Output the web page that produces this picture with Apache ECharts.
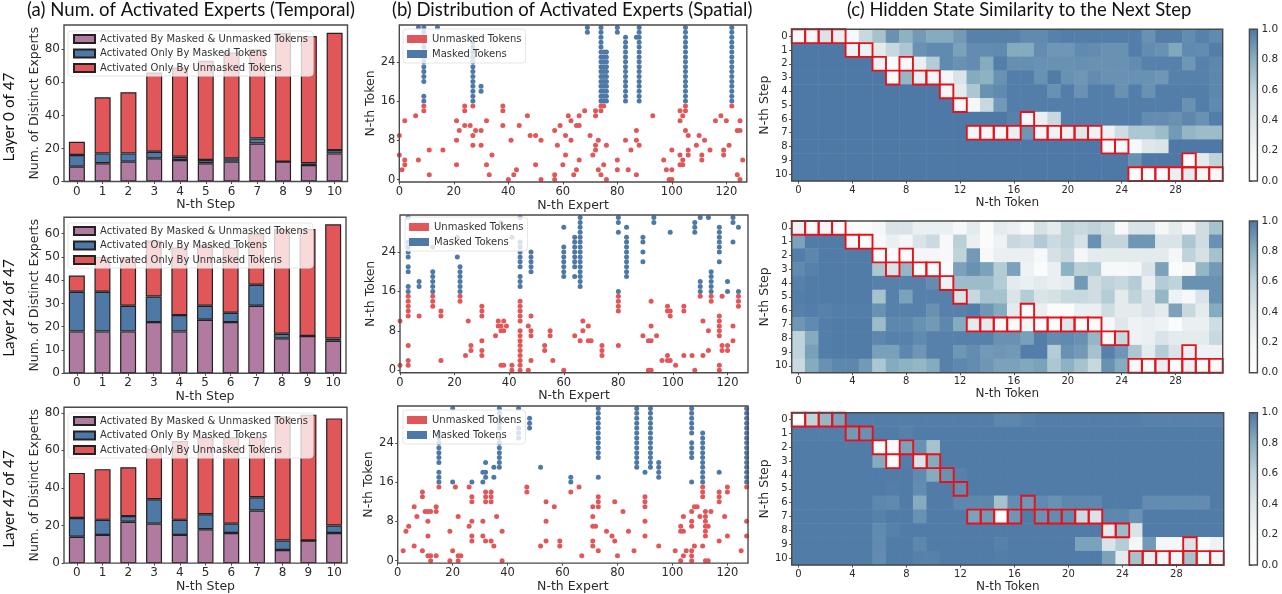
<!DOCTYPE html>
<html>
<head>
<meta charset="utf-8">
<style>html,body{margin:0;padding:0;background:#fff}#c{width:1282px;height:594px}</style>
<script src="https://cdn.jsdelivr.net/npm/echarts@6/dist/echarts.min.js"></script>
</head>
<body>
<div id="c"></div>
<script>
const stepLabels = ['0','1','2','3','4','5','6','7','8','9','10'];
const tokenLabels = ['0','1','2','3','4','5','6','7','8','9','10','11','12','13','14','15','16','17','18','19','20','21','22','23','24','25','26','27','28','29','30','31'];

// (a) bars
const both0 = [9,11,12,14,13,11,12,23,12,10,17];
const masked0 = [7,6,5,4,2,2,2,3,0,1,2];
const unmasked0 = [8,34,37,48,54,60,64,54,78,77,71];
const both1 = [18,18,18,22,18,23,22,29,15,16,14];
const masked1 = [17,17,11,11,7,6,4,9,2,0,1];
const unmasked1 = [7,15,21,24,29,26,28,22,45,46,49];
const both2 = [14,15,22,21,15,18,16,28,7,12,16];
const masked2 = [10,8,3,13,8,8,5,7,5,0,4];
const unmasked2 = [24,27,26,27,42,41,46,32,66,67,57];

// (b) dots: unmasked [expert, token]
const redDots0 = [[0,9],[0,5],[1,2],[2,4],[2,3],[2,12],[6,13],[7,4],[9,15],[9,14],[11,6],[11,1],[16,6],[21,12],[21,8],[21,3],[22,10],[24,15],[24,14],[24,11],[26,11],[27,15],[27,9],[27,7],[28,10],[30,10],[30,7],[32,12],[32,3],[33,1],[34,5],[38,15],[38,14],[38,11],[40,0],[41,8],[42,1],[43,2],[44,11],[47,13],[48,9],[50,9],[50,3],[52,8],[52,0],[57,10],[57,1],[57,0],[58,7],[59,11],[60,3],[61,9],[61,5],[62,13],[63,12],[63,8],[64,1],[65,2],[65,11],[66,11],[66,13],[66,4],[68,14],[70,9],[71,5],[72,14],[72,13],[72,7],[72,6],[73,8],[73,2],[74,15],[74,14],[74,1],[75,15],[75,3],[76,7],[76,0],[80,4],[80,2],[84,2],[83,8],[85,6],[87,10],[87,8],[87,1],[88,7],[93,13],[97,4],[98,2],[99,0],[100,0],[100,2],[100,6],[103,12],[103,14],[103,5],[103,3],[104,13],[104,4],[104,3],[105,15],[105,14],[105,10],[106,9],[106,6],[106,5],[109,7],[110,9],[111,5],[111,4],[112,8],[114,6],[116,12],[118,13],[119,6],[119,5],[120,12],[121,7],[122,15],[124,10],[124,1],[125,12],[125,10],[125,0],[126,4]];
const redDots1 = [[0,10],[0,1],[3,15],[3,14],[3,13],[3,12],[3,11],[3,5],[3,2],[3,1],[7,11],[12,15],[12,14],[12,13],[15,12],[15,11],[15,2],[22,15],[22,14],[24,3],[25,10],[26,5],[26,4],[30,13],[30,12],[30,11],[30,6],[30,4],[30,3],[35,7],[36,10],[36,9],[37,9],[37,8],[37,1],[38,10],[38,8],[38,1],[39,9],[41,1],[41,0],[44,14],[44,13],[44,12],[44,11],[44,10],[44,8],[44,7],[44,6],[44,5],[44,4],[44,3],[44,2],[44,1],[44,0],[47,9],[47,0],[48,11],[48,8],[48,7],[48,2],[53,5],[53,4],[55,8],[55,7],[56,2],[60,0],[64,7],[66,6],[67,10],[67,8],[69,9],[69,6],[70,6],[74,5],[74,4],[74,3],[80,15],[80,14],[80,13],[80,12],[80,5],[89,7],[91,6],[91,0],[92,14],[92,9],[92,6],[92,0],[94,7],[96,2],[98,13],[98,12],[98,3],[98,2],[99,12],[99,11],[99,2],[101,1],[104,13],[104,12],[104,3],[107,3],[108,0],[110,15],[111,10],[111,3],[113,8],[113,4],[114,15],[114,14],[117,11],[117,10],[117,9],[117,8],[117,7],[117,1],[117,0],[118,15],[118,5],[118,4],[120,5],[120,4],[122,9],[122,6],[124,15],[124,14],[124,13]];
const redDots2 = [[2,2],[3,6],[4,7],[6,11],[6,3],[7,9],[9,14],[9,13],[9,2],[10,10],[11,10],[11,8],[11,5],[11,1],[12,10],[12,1],[12,0],[14,11],[14,10],[14,1],[15,15],[19,6],[19,0],[20,2],[21,15],[22,9],[22,1],[22,0],[23,1],[26,15],[26,7],[27,13],[27,12],[27,8],[27,5],[27,4],[31,8],[31,5],[32,14],[32,13],[32,12],[32,4],[34,14],[34,13],[34,12],[34,4],[35,3],[36,9],[38,6],[38,0],[47,15],[47,14],[52,3],[54,12],[54,8],[54,4],[57,11],[59,4],[59,3],[63,14],[66,15],[67,1],[71,11],[71,9],[71,7],[71,4],[71,3],[72,7],[73,13],[73,12],[73,11],[73,2],[76,6],[78,5],[79,12],[79,4],[80,1],[82,10],[84,6],[86,2],[90,13],[90,12],[90,11],[90,8],[90,5],[95,3],[101,2],[103,7],[103,6],[103,0],[104,9],[104,6],[104,1],[105,2],[107,10],[107,8],[107,7],[107,2],[107,1],[107,0],[108,11],[108,3],[109,11],[110,9],[111,15],[111,14],[111,13],[111,3],[112,10],[112,9],[112,8],[112,7],[112,6],[112,5],[112,0],[113,7],[113,0],[114,10],[117,14],[117,13],[117,12],[117,4],[119,9],[120,15],[120,14],[120,5],[125,2],[127,15],[127,8],[127,5]];
// masked: [expert, [tokens]]
const blueCols0 = [[7,[31]],[9,[16,17,20,21,22,23,24,25,26,27,28,29,30,31]],[14,[31]],[27,[16,17,18,19,20,21,22,23,24,25,26,27,28,29]],[30,[18,19]],[69,[30,31]],[74,[16,17,18,19,20,21,22,23,24,25,26,27,28,29,30,31]],[75,[16,17,18,19,20,21,22,23,24,25,26]],[76,[16,17,18,19,20,21,22,23,24,25,26]],[80,[30,31]],[83,[16,17,18,19,20,21,22,23,24,25,26,27,28,29]],[87,[29]],[88,[16,17,18,19,20,21,22,23,24,25,26,27,28,29,30,31]],[105,[16,17,18,19,20,21,22,23,24,25,26,27,28,29,30,31]],[122,[16,17,18,19,20,21,22,23,24,25,26,27,28,29,30,31]]];
const blueCols1 = [[3,[16,17,20,21,23,24,25,26,31]],[7,[17,18]],[12,[16,17,18,19,20,25]],[21,[23,27]],[22,[16,17,18,19,20,21]],[37,[30]],[41,[27]],[44,[17,18,19,21,22,23,24,25,26,31]],[48,[20,21,22,23,24]],[60,[19,20,21,22,23,24,25,29]],[64,[19,21,22,23,24,25,26,27]],[66,[17,18,19,20,21,22,23,24,25,26,27,28,29,30,31]],[80,[16,28,30,31]],[83,[19,20,21,22,23,24,25,26,27,29]],[89,[22,24,26,27]],[93,[30,31]],[99,[28]],[108,[28,29,30]],[110,[16,17,18,31]],[113,[31]],[114,[16,17,18,19,20]],[117,[22,24,25,26,27,28,29]],[120,[16,18]],[122,[26,30,31]],[124,[16,29]]];
const blueCols2 = [[15,[16,17,18,20,21,22,23,24,25,26]],[20,[16,31]],[27,[16]],[31,[16,18]],[32,[17,18,20]],[35,[17,19]],[37,[19,20,21,22,23,24,25,27,28,29,30,31]],[44,[25,26,27,31]],[48,[27,28,29]],[52,[19]],[63,[16,17]],[73,[17,21,22,23,24,25,26,27,28,29,30,31]],[87,[19,20,21,22,23,24,25,26,27,28,29,30,31]],[90,[18]],[92,[19,20,21,22,23,24,25,26,27,28,29,30,31]],[95,[17,18,19,20]],[107,[16,21,22,23,24,26,27,28,29,30,31]],[111,[16,17,18,19,20,21,22,23,24,25,26]],[117,[18]],[127,[16,17,18,19,20,21,22,23,24,25,26,27,28,29,30,31]]];

// (c) similarity, rows = steps, cols = tokens
const heat0 = [
[.15,.15,.43,.3,.15,.55,.7,.91,.79,.88,.82,.82,.88,.97,.97,.97,.97,.94,.94,.97,.98,.98,.98,.98,.98,.98,.91,.98,.98,.93,.97,.94],
[1,1,1,1,.25,.25,.35,.55,.67,.91,.94,.94,.85,.93,.93,.94,.82,.82,.93,.89,.89,.94,.93,.91,.91,.98,.93,.91,.83,.94,.93,.98],
[1,1,1,1,1,1,.25,.1,.15,.3,.64,.94,.91,.93,.82,.98,.92,.92,.91,.91,.91,.92,.91,.91,.91,.93,.97,.97,.97,.89,.97,.95],
[1,1,1,1,1,1,1,.08,.76,.3,.2,.2,.43,.82,.79,.91,.98,.98,.91,.99,.91,.89,.93,.91,.91,.91,.91,.89,.97,.97,.97,.95],
[1,1,1,1,1,1,1,1,1,1,1,.2,.35,.67,.91,.94,.98,.98,.98,.91,.98,.91,.98,.98,.91,.98,.91,.98,.98,.98,.98,.95],
[1,1,1,1,1,1,1,1,1,1,1,1,.1,.2,.55,.88,.98,.98,.98,.98,.98,.98,.98,.98,.98,.98,.98,.98,.98,.91,.98,.94],
[1,1,1,1,1,1,1,1,1,1,1,1,1,1,1,1,.97,.15,.3,.55,.98,.98,.98,.98,.98,.98,.93,.93,.91,.95,.91,.98],
[1,1,1,1,1,1,1,1,1,1,1,1,1,.2,.2,.2,.3,.89,.2,.25,.25,.4,.25,.25,.5,.67,.67,.73,.88,.76,.73,.73],
[1,1,1,1,1,1,1,1,1,1,1,1,1,1,1,1,1,1,1,1,1,1,1,.16,.16,.15,.4,.43,1,1,1,1],
[1,1,1,1,1,1,1,1,1,1,1,1,1,1,1,1,1,1,1,1,1,1,1,1,1,.91,1,1,1,.1,.35,.6],
[1,1,1,1,1,1,1,1,1,1,1,1,1,1,1,1,1,1,1,1,1,1,1,1,1,.08,.08,.1,.3,.35,.2,.15]
];
const heat1 = [
[.25,.1,.2,.1,.08,.1,.2,.43,.43,.3,.3,.3,.18,.35,.1,.35,.3,.15,.46,.35,.6,.55,.6,.53,.15,.43,.43,.2,.35,.18,.5,.7],
[.85,.99,.99,.99,.2,.08,.16,.3,.2,.43,.53,.15,.62,.3,.1,.25,.55,.5,.65,.53,.6,.46,.91,.57,.57,.89,.89,.43,.43,.67,.5,.91],
[.98,.95,.99,.99,.99,.99,.1,.08,.08,.2,.2,.15,.6,.88,.15,.3,.3,.3,.15,.46,.55,.2,.35,.35,.35,.35,.35,.35,.2,.6,.46,.7],
[.94,.97,.99,.99,.99,.99,.67,.43,.76,.08,.08,.1,.85,.91,.85,.64,.85,.25,.1,.3,.79,.62,.64,.15,.15,.2,.43,.85,.1,.2,.76,.88],
[.97,.99,.99,.99,.99,.99,.97,.97,.97,.97,.93,.25,.73,.73,.73,.64,.35,.3,.35,.3,.35,.88,.5,.6,.55,.64,.3,.64,.6,.91,.91,.91],
[.98,.99,.99,.99,.99,.99,.7,.97,.85,.97,.97,.97,.43,.55,.7,.7,.43,.64,.43,.46,.55,.55,.5,.64,.35,.6,.43,.76,.25,.18,.43,.91],
[.97,.98,.97,.98,.98,.98,.91,.97,.97,.97,.91,.97,.97,.98,.89,.82,.35,.1,.3,.1,.08,.3,.3,.5,.35,.35,.43,.35,.85,.55,.35,.82],
[.89,.94,.98,.99,.99,.99,.73,.95,.95,.91,.88,.95,.82,.35,.35,.15,.1,.2,.1,.1,.4,.1,.1,.15,.4,.25,.3,.25,.1,.3,.3,.5],
[.6,.82,.98,.99,.99,.99,.95,.97,.97,.94,.97,.97,.97,.97,.97,.91,.91,.86,.98,.93,.94,.91,.76,.15,.55,.25,.3,.43,.35,.35,.35,.55],
[.6,.86,.98,.99,.99,.99,.86,.86,.95,.89,.97,.97,.89,.93,.88,.89,.88,.98,.98,.64,.91,.88,.7,.97,.89,.67,.35,.64,.43,.3,.25,.25],
[.53,.82,.91,.95,.95,.88,.67,.82,.79,.76,.82,.97,.95,.93,.89,.85,.85,.83,.85,.67,.79,.7,.55,.91,.82,.15,.1,.3,.1,.25,.08,.1]
];
const heat2 = [
[0,.6,.76,.85,.98,.98,.98,.98,.98,.98,.98,.98,.98,.98,.98,.95,.95,.97,.98,.98,.98,.98,.98,.98,.98,.98,.97,.97,.97,.97,.97,.97],
[.98,.98,.98,.98,.88,.91,.99,.99,.97,.99,.99,.99,.99,.99,.99,.99,.99,.99,.99,.99,.99,.99,.99,.99,.99,.99,.99,.99,.99,.99,.99,.99],
[.99,.99,.99,.99,.99,.99,.1,.08,.85,.91,.7,.99,.99,.99,.99,.99,.99,.99,.99,.99,.99,.99,.99,.99,.99,.99,.99,.99,.99,.99,.99,.99],
[.99,.99,.99,.99,.99,.99,.82,.08,.98,.43,.82,.99,.99,.99,.99,.99,.99,.99,.99,.99,.99,.99,.99,.99,.99,.99,.99,.99,.99,.99,.99,.99],
[.99,.99,.99,.99,.99,.99,.99,.99,.99,.94,.82,.91,.97,.99,.99,.99,.99,.99,.99,.99,.99,.99,.99,.99,.99,.99,.99,.99,.99,.99,.99,.99],
[.99,.99,.99,.99,.99,.99,.99,.98,.99,.93,.99,.99,.93,.99,.99,.99,.99,.99,.99,.99,.99,.99,.99,.99,.99,.99,.99,.99,.99,.99,.99,.99],
[.99,.99,.99,.99,.99,.99,.95,.94,.99,.82,.99,.99,.95,.95,.95,.7,.93,.89,.94,.91,.95,.95,.95,.99,.99,.99,.93,.93,.93,.93,.93,.99],
[.99,.99,.99,.99,.99,.99,.97,.99,.99,.91,.99,.99,.99,.85,.88,0,.89,.99,.91,.93,.93,.53,.43,.95,.95,.91,.99,.99,.99,.99,.99,.99],
[.99,.99,.99,.99,.99,.99,.94,.97,.99,.99,.99,.99,.99,.99,.99,.99,.99,.99,.99,.99,.99,.99,.99,.35,.73,.43,.99,.99,.99,.99,.99,.99],
[.99,.99,.99,.99,.99,.99,.94,.99,.99,.95,.99,.99,.99,.99,.99,.97,.99,.99,.99,.99,.99,.85,.85,.43,.64,.2,.88,.2,.2,.43,.1,.25],
[.99,.99,.99,.99,.99,.99,.93,.99,.99,.97,.97,.99,.99,.99,.99,.98,.99,.99,.99,.99,.99,.99,.99,.85,.35,.7,.3,.2,.2,.7,.15,.2]
];
// outlined cells: [token, step]
const maskedCells = [[0,0],[1,0],[2,0],[3,0],[4,1],[5,1],[6,2],[8,2],[7,3],[9,3],[10,3],[11,4],[12,5],[17,6],[13,7],[14,7],[15,7],[16,7],[18,7],[19,7],[20,7],[21,7],[22,7],[23,8],[24,8],[29,9],[25,10],[26,10],[27,10],[28,10],[29,10],[30,10],[31,10]];

const names = ['Activated By Masked & Unmasked Tokens','Activated Only By Masked Tokens','Activated Only By Unmasked Tokens'];
const RED='#e15759', BLUE='#4e79a7', PURPLE='#b07aa1';
const INK='#2b2b2b', SPINE='#4a4a4a';
const barSets=[[both0,masked0,unmasked0],[both1,masked1,unmasked1],[both2,masked2,unmasked2]];
const barMax=[94.7,67,82.9];
const barGrids=[{l:64,t:25,w:283.5,h:156.5},{l:64,t:217.3,w:282,h:156},{l:64,t:407.3,w:283,h:156}];
const dotGrids=[{l:399.3,t:25,w:347.5,h:157},{l:400,t:215,w:348,h:157.7},{l:397.7,t:406,w:350.3,h:157.5}];
const heatGrids=[{l:791.7,t:29.3,w:431,h:151.7},{l:791.7,t:221,w:431,h:151.7},{l:791.7,t:412.7,w:432,h:152.3}];
const redDots=[redDots0,redDots1,redDots2], blueCols=[blueCols0,blueCols1,blueCols2], heats=[heat0,heat1,heat2];
const barLegendTop=[31,223,413], dotLegendTop=[29,217,410], dotLegendLeft=[403,405,403];

const grid=[],xAxis=[],yAxis=[],series=[],legend=[],visualMap=[];
function addGrid(g){grid.push({left:g.l,top:g.t,width:g.w,height:g.h,show:true,borderColor:SPINE,borderWidth:1.4,z:10,backgroundColor:'rgba(0,0,0,0)'});return grid.length-1;}
function axisBase(size,name,gap){return {name:name,nameLocation:'middle',nameGap:gap,nameTextStyle:{fontFamily:'DejaVu Sans',fontSize:12.5,color:INK},axisLine:{show:false},splitLine:{show:false},axisLabel:{fontFamily:'DejaVu Sans',fontSize:size,color:INK,margin:4},axisTick:{show:true,length:2.5,lineStyle:{color:SPINE}}};}

for(let i=0;i<3;i++){
  const g=addGrid(barGrids[i]);
  xAxis.push(Object.assign(axisBase(12,'N-th Step',16.5),{type:'category',gridIndex:g,data:stepLabels,axisTick:{show:true,alignWithLabel:true,length:2.5,lineStyle:{color:SPINE}}}));
  const y=axisBase(12,'Num. of Distinct Experts',19);
  y.axisLabel.showMaxLabel=false;
  yAxis.push(Object.assign(y,{type:'value',gridIndex:g,min:0,max:barMax[i],interval:i==1?10:20}));
  barSets[i].forEach((d,k)=>series.push({name:names[k],type:'bar',xAxisIndex:g,yAxisIndex:g,stack:'s'+i,data:d,barWidth:16,itemStyle:{color:[PURPLE,BLUE,RED][k],borderColor:'#222',borderWidth:1.2}}));
  legend.push({data:names,orient:'vertical',left:68,top:barLegendTop[i],itemWidth:21,itemHeight:8,itemGap:4.5,padding:[3,5,3,5],selectedMode:false,z:20,backgroundColor:'rgba(255,255,255,0.78)',borderColor:'#e6e6e6',borderWidth:1,borderRadius:3,icon:'rect',textStyle:{fontFamily:'DejaVu Sans',fontSize:10,color:'#333'}});
}
for(let i=0;i<3;i++){
  const g=addGrid(dotGrids[i]);
  const x=axisBase(11.5,'N-th Expert',16);
  x.axisLabel.showMaxLabel=false;
  xAxis.push(Object.assign(x,{type:'value',gridIndex:g,min:0,max:127.5,interval:20}));
  yAxis.push(Object.assign(axisBase(11.5,'N-th Token',15),{type:'category',gridIndex:g,data:tokenLabels,axisLabel:{fontFamily:'DejaVu Sans',fontSize:11.5,color:INK,margin:4,interval:7},axisTick:{show:true,alignWithLabel:true,interval:7,length:2.5,lineStyle:{color:SPINE}}}));
  const blue=[];blueCols[i].forEach(c=>c[1].forEach(t=>blue.push([c[0],t])));
  series.push({name:'Unmasked Tokens',type:'scatter',xAxisIndex:g,yAxisIndex:g,data:redDots[i],symbolSize:5,itemStyle:{color:RED,opacity:1}});
  series.push({name:'Masked Tokens',type:'scatter',xAxisIndex:g,yAxisIndex:g,data:blue,symbolSize:5,itemStyle:{color:BLUE,opacity:1}});
  legend.push({data:['Unmasked Tokens','Masked Tokens'],orient:'vertical',left:dotLegendLeft[i],top:dotLegendTop[i],itemWidth:20,itemHeight:8,itemGap:5,padding:[5,4,4,4],selectedMode:false,z:20,backgroundColor:'rgba(255,255,255,0.78)',borderColor:'#e6e6e6',borderWidth:1,borderRadius:3,icon:'rect',textStyle:{fontFamily:'DejaVu Sans',fontSize:10,color:'#333'}});
}
const cmap=['#ffffff','#f4f6f7','#dfe7ea','#bfd3da','#8ab0c0','#4e79a7'];
for(let i=0;i<3;i++){
  const g=addGrid(heatGrids[i]);
  const x=axisBase(10,'N-th Token',15.5);x.nameTextStyle.fontSize=12;
  xAxis.push(Object.assign(x,{type:'category',gridIndex:g,data:tokenLabels,axisLabel:{fontFamily:'DejaVu Sans',fontSize:10,color:INK,margin:4,interval:3},axisTick:{show:true,alignWithLabel:true,interval:3,length:2.5,lineStyle:{color:SPINE}}}));
  yAxis.push(Object.assign(axisBase(10,'N-th Step',18),{type:'category',inverse:true,gridIndex:g,data:stepLabels,axisLabel:{fontFamily:'DejaVu Sans',fontSize:10,color:INK,margin:4,interval:0},axisTick:{show:true,alignWithLabel:true,interval:0,length:2.5,lineStyle:{color:SPINE}}}));
  const cells=[];heats[i].forEach((row,r)=>row.forEach((v,c)=>cells.push([c,r,v])));
  const idx=series.length;
  series.push({type:'heatmap',xAxisIndex:g,yAxisIndex:g,data:cells,itemStyle:{borderWidth:0}});
  series.push({type:'custom',xAxisIndex:g,yAxisIndex:g,z:5,data:maskedCells,renderItem:function(p,api){
    const c=api.coord([api.value(0),api.value(1)]),s=api.size([1,1]);
    return {type:'rect',shape:{x:c[0]-s[0]/2,y:c[1]-s[1]/2,width:s[0],height:s[1]},style:{fill:'none',stroke:'#e5121c',lineWidth:1.9}};
  }});
  visualMap.push({type:'continuous',seriesIndex:idx,dimension:2,min:0,max:1,left:heatGrids[i].l+457.7,top:heatGrids[i].t,itemWidth:8,itemHeight:heatGrids[i].h,padding:0,calculable:false,hoverLink:false,inRange:{color:cmap}});
  const cb=addGrid({l:heatGrids[i].l+457.7,t:heatGrids[i].t,w:8,h:heatGrids[i].h});
  xAxis.push({type:'value',gridIndex:cb,show:false,min:0,max:1});
  yAxis.push({type:'value',gridIndex:cb,position:'right',min:0,max:1,interval:.2,axisLine:{show:false},splitLine:{show:false},axisTick:{show:true,length:2.5,lineStyle:{color:SPINE}},axisLabel:{fontFamily:'DejaVu Sans',fontSize:10.5,color:INK,margin:4,formatter:v=>v.toFixed(1)}});
}
const titles=[['(a) Num. of Activated Experts (Temporal)',27,18.6],['(b) Distribution of Activated Experts (Spatial)',392,18.5],['(c) Hidden State Similarity to the Next Step',847,18.4]];
const layerLabels=[['Layer 0 of 47',117],['Layer 24 of 47',308],['Layer 47 of 47',499]];
const graphic=titles.map(t=>({type:'text',x:t[1],y:10,style:{text:t[0],align:'left',verticalAlign:'middle',font:t[2]+'px Lato',fill:'#111'}}))
  .concat(layerLabels.map(l=>({type:'text',x:9,y:l[1],rotation:Math.PI/2,style:{text:l[0],align:'center',verticalAlign:'middle',font:'15.3px Lato',fill:'#111'}})));

echarts.init(document.getElementById('c'),null,{renderer:'canvas'}).setOption({animation:false,backgroundColor:'#fff',grid,xAxis,yAxis,series,legend,visualMap,graphic});
</script>
</body>
</html>
